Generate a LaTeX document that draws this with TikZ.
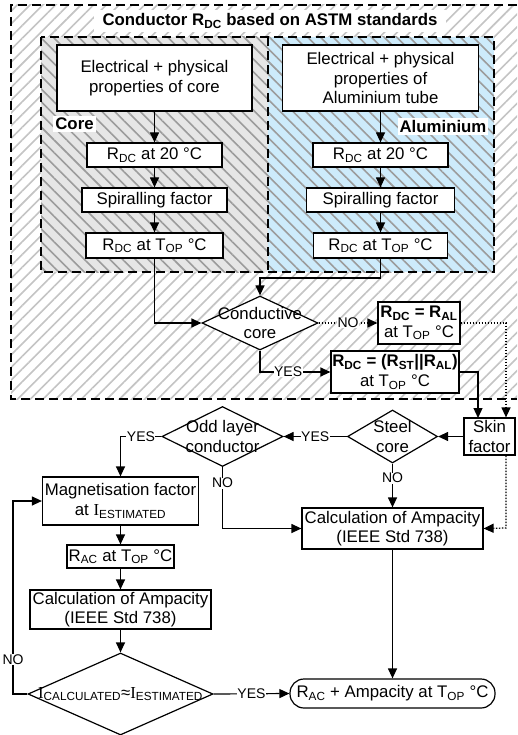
\documentclass[tikz,border=0pt]{standalone}
\usepackage{fontspec}
\setmainfont{Liberation Sans}
\newfontfamily\serifI{Liberation Serif}
\usetikzlibrary{shapes.geometric,arrows.meta,patterns.meta}

\definecolor{hatchlight}{HTML}{C4C4C4}
\definecolor{hatchdark}{HTML}{9C9C9C}
\definecolor{coregray}{HTML}{E6E6E6}
\definecolor{alblue}{HTML}{CDEBFB}

\newcommand{\bodysize}{\fontsize{16.8}{19.5}\selectfont}
\newcommand{\lowtxt}[1]{\textsubscript{#1}}
\newcommand{\Ival}{{\serifI I}}

\begin{document}
\begin{tikzpicture}[x=1pt,y=-1pt,
    font=\bodysize,
    box/.style 2 args={draw, line width=1.2pt, fill=white, align=center,
      inner sep=1pt, minimum width=#1pt, minimum height=#2pt},
    dia/.style 2 args={diamond, draw, line width=1.2pt, fill=white, align=center,
      inner sep=-40pt, minimum width=#1pt, minimum height=#2pt},
    arr/.style={line width=1.2pt, -{Triangle[length=10pt,width=9pt]}},
    dotarr/.style={arr, dash pattern=on 1.5pt off 1.5pt},
    lbl/.style={font=\fontsize{14}{16}\selectfont, fill=white, inner sep=0.5pt},
    tag/.style={font=\bodysize\bfseries, fill=white, inner sep=2pt},
    border/.style={line width=1.2pt, dash pattern=on 9pt off 5pt}]
    \useasboundingbox (0,0) rectangle (517,735);

    % ASTM area (outer hatched region)
    \fill[white] (11,5) rectangle (517,399);
    \fill[pattern={Lines[angle=45,distance=9pt,line width=1.6pt]}, pattern color=hatchlight] (11,5) rectangle (517,399);
    \draw[border] (517,5) -- (11,5) -- (11,399) -- (517,399);

    % Core and Aluminium halves
    \fill[coregray] (41,37) rectangle (268,272);
    \fill[alblue] (268,37) rectangle (494,272);
    \fill[pattern={Lines[angle=-45,distance=9pt,line width=1.6pt]}, pattern color=hatchdark] (41,37) rectangle (494,272);
    \draw[border] (41,37) rectangle (494,272);
    \draw[border] (268,37) -- (268,272);

    % Titles
    \node[tag, inner xsep=9pt, inner ysep=4pt] (title) at (270,21) {Conductor R\lowtxt{DC} based on ASTM standards};
    \node[tag] (coretag) at (74.5,124) {Core};
    \node[tag] (altag) at (443,126.5) {Aluminium};

    % Core column
    \node[box={195}{66}] (prop1) at (154.5,78) {Electrical + physical\\properties of core};
    \node[box={135}{24}] (rdc1) at (154.5,155) {R\lowtxt{DC} at 20~°C};
    \node[box={145}{24}] (spir1) at (154.5,200) {Spiralling factor};
    \node[box={137}{25}] (top1) at (154.5,245.5) {R\lowtxt{DC} at T\lowtxt{OP}~°C};

    % Aluminium column
    \node[box={196}{66}] (prop2) at (380.5,78) {Electrical + physical\\properties of\\Aluminium tube};
    \node[box={135}{24}] (rdc2) at (380.5,155) {R\lowtxt{DC} at 20~°C};
    \node[box={148}{24}] (spir2) at (380.5,200) {Spiralling factor};
    \node[box={134}{25}] (top2) at (380.5,245.5) {R\lowtxt{DC} at T\lowtxt{OP}~°C};

    % Conductor resistance
    \node[dia={116}{54}] (cond) at (260,323) {Conductive\\core};
    \node[box={82}{42}] (ral) at (419,323) {\textbf{R\lowtxt{DC} = R\lowtxt{AL}}\\at T\lowtxt{OP}~°C};
    \node[box={128}{42}] (par) at (395,372) {\textbf{R\lowtxt{DC} = (R\lowtxt{ST}||R\lowtxt{AL})}\\at T\lowtxt{OP}~°C};

    % AC part
    \node[box={51}{37}] (skin) at (489.5,436.5) {Skin\\factor};
    \node[dia={90}{53}] (steel) at (392.5,436.5) {Steel\\core};
    \node[dia={121}{60}] (odd) at (222.5,436.5) {Odd layer\\conductor};
    \node[box={156}{48}] (mag) at (120.5,501) {Magnetisation factor\\at \Ival\lowtxt{ESTIMATED}};
    \node[box={107}{23}] (rac) at (120.5,556.5) {R\lowtxt{AC} at T\lowtxt{OP}~°C};
    \node[box={181}{39}] (calcL) at (120.5,609.5) {Calculation of Ampacity\\(IEEE Std 738)};
    \node[dia={185}{82}] (approx) at (120.5,694) {\Ival\lowtxt{CALCULATED}≈\Ival\lowtxt{ESTIMATED}};
    \node[box={181}{41}] (calcR) at (392.5,528.5) {Calculation of Ampacity\\(IEEE Std 738)};
    \node[box={205}{29}, rounded corners=14pt] (result) at (392.5,693.5) {R\lowtxt{AC} + Ampacity at T\lowtxt{OP}~°C};

    % helper points
    \coordinate (j1) at (260,278);
    \coordinate (d1) at (506,323);
    \coordinate (d2) at (506,528);
    \coordinate (s1) at (478,418);
    \coordinate (l1) at (13,694);

    % DC connectors
    \draw[arr] (prop1) -- (rdc1);
    \draw[arr] (rdc1) -- (spir1);
    \draw[arr] (spir1) -- (top1);
    \draw[arr] (prop2) -- (rdc2);
    \draw[arr] (rdc2) -- (spir2);
    \draw[arr] (spir2) -- (top2);
    \draw[arr] (top1.south) |- (cond.west);
    \draw[arr] (top2.south) |- (j1) -- (cond.north);
    \draw[dotarr] (cond.east) -- node[lbl] {NO} (ral.west);
    \draw[arr] (cond.south) |- node[lbl, pos=0.7] {YES} (par.west);
    \draw[dotarr] (ral.east) -- (d1) -- (d1 |- skin.north);
    \draw[arr] (par.east) -| (s1);

    % AC connectors
    \draw[arr] (skin) -- (steel);
    \draw[arr] (steel) -- node[lbl] {YES} (odd);
    \draw[arr] (odd.west) -| node[lbl, pos=0.25] {YES} (mag.north);
    \draw[arr] (odd.south) |- node[lbl, pos=0.13] {NO} (calcR.west);
    \draw[arr] (steel.south) -- node[lbl, pos=0.33] {NO} (calcR.north);
    \draw[dotarr] (d1 |- skin.south) -- (d2) -- (calcR.east);
    \draw[arr] (calcR) -- (result);
    \draw[arr] (mag) -- (rac);
    \draw[arr] (rac) -- (calcL);
    \draw[arr] (calcL) -- (approx);
    \draw[arr] (approx.west) -- (l1) |- node[lbl, pos=0.09] {NO} (mag.west);
    \draw[arr] (approx.east) -- node[lbl] {YES} (result.west);
\end{tikzpicture}
\end{document}
